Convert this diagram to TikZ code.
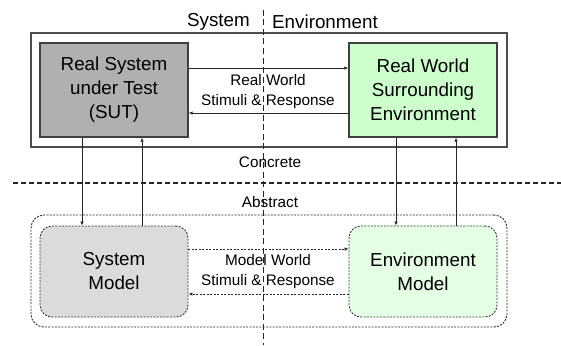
\documentclass[tikz,border=0pt]{standalone}
\usepackage{fontspec}
\setmainfont{Liberation Sans}
\usetikzlibrary{arrows.meta}
\begin{document}
\begin{tikzpicture}[x=1pt,y=-1pt,
  big/.style={font=\fontsize{18.8}{24}\selectfont, align=center},
  small/.style={font=\fontsize{15.3}{20}\selectfont, align=center, inner sep=0pt},
  realbox/.style={draw=black!75, line width=1.2pt, minimum width=148pt, minimum height=94pt, inner sep=0pt, big},
  modelbox/.style={draw=black!80, line width=0.9pt, dash pattern=on 2pt off 1.3pt, rounded corners=12pt, minimum width=148pt, minimum height=91pt, inner sep=0pt, big},
  conn/.style={draw=black!85, line width=0.7pt, -{Latex[length=4pt,width=3.5pt]}},
  dconn/.style={conn, dash pattern=on 2pt off 1.5pt}
]
\useasboundingbox (0,0) rectangle (561,345);
% frames
\node[draw=black!70, line width=1.5pt, minimum width=476pt, minimum height=114pt, inner sep=0pt] (concrete) at (269,90) {};
\node[draw=black!85, line width=0.9pt, dash pattern=on 2pt off 1.3pt, rounded corners=13pt, minimum width=476pt, minimum height=112pt, inner sep=0pt] (abstract) at (269,271) {};
% divider lines
\coordinate (vtop) at (263,10);
\coordinate (vbot) at (263,345);
\coordinate (hl) at (13,183);
\coordinate (hr) at (561,183);
\draw[black!85, line width=0.8pt, dash pattern=on 6pt off 3.5pt] (vtop) -- (vbot);
\draw[black!85, line width=1.2pt, dash pattern=on 5pt off 3pt] (hl) -- (hr);
% boxes
\node[realbox, fill=black!31] (sut) at (114,90) {Real System\\under Test\\(SUT)};
\node[realbox, fill=green!20] (env) at (423,90) {Real World\\Surrounding\\Environment};
\node[modelbox, fill=black!14] (sysm) at (114,271.5) {System\\Model};
\node[modelbox, fill=green!10] (envm) at (423,271.5) {Environment\\Model};
% labels
\node[big, anchor=east, inner sep=0pt] (lsys) at (250,22) {System};
\node[big, anchor=west, inner sep=0pt] (lenv) at (272,22) {Environment};
\node[small] (lrw) at (268,92) {Real World\\Stimuli \& Response};
\node[small] (lconc) at (270,162) {Concrete};
\node[small] (labs) at (270,202) {Abstract};
\node[small] (lmw) at (268,272) {Model World\\Stimuli \& Response};
% horizontal arrows
\draw[conn] ([yshift=22pt]sut.east) -- ([yshift=22pt]env.west);
\draw[conn] ([yshift=-23pt]env.west) -- ([yshift=-23pt]sut.east);
\draw[dconn] ([yshift=22.5pt]sysm.east) -- ([yshift=22.5pt]envm.west);
\draw[dconn] ([yshift=-22.5pt]envm.west) -- ([yshift=-22.5pt]sysm.east);
% vertical arrows
\draw[conn] ([xshift=-32pt]sut.south) -- ([xshift=-32pt]sysm.north);
\draw[conn] ([xshift=28pt]sysm.north) -- ([xshift=28pt]sut.south);
\draw[conn] ([xshift=-27pt]env.south) -- ([xshift=-27pt]envm.north);
\draw[conn] ([xshift=33pt]envm.north) -- ([xshift=33pt]env.south);
\end{tikzpicture}
\end{document}
